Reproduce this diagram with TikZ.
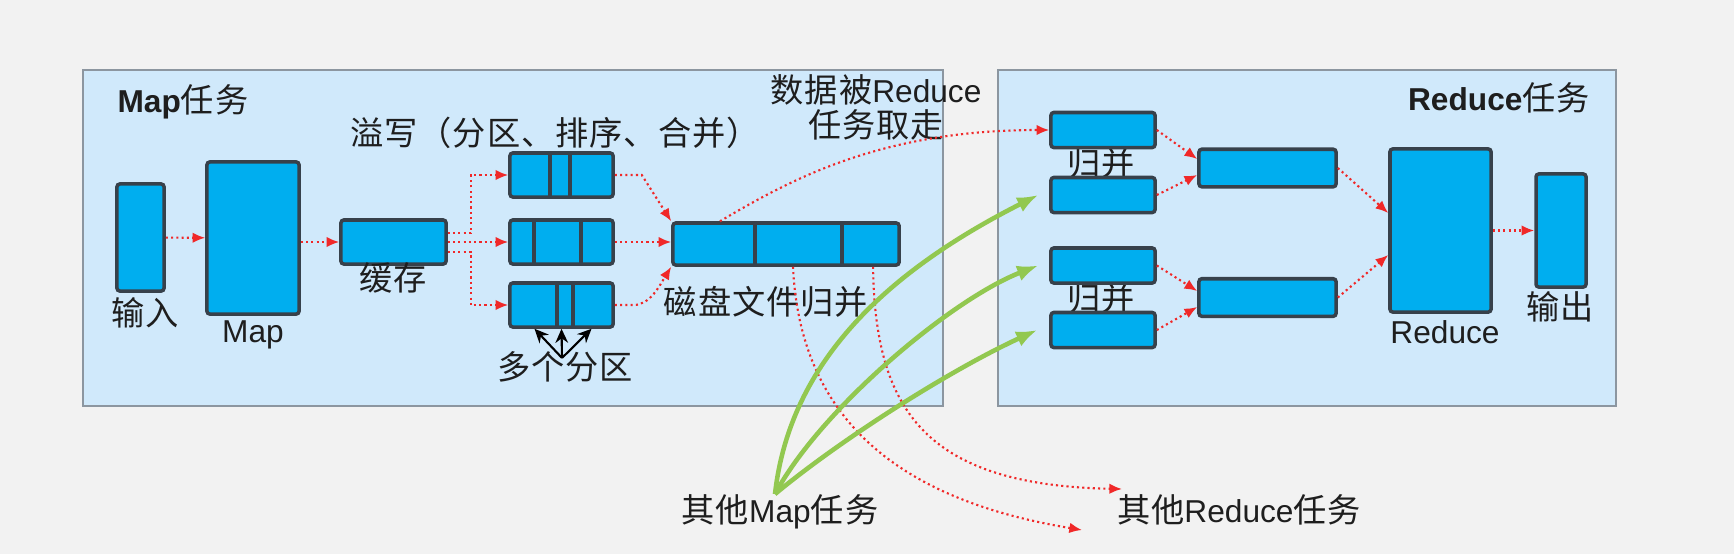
\documentclass[tikz,border=0pt]{standalone}
\usepackage{fontspec}
\setmainfont{Liberation Sans}
\newfontfamily\cjk{Noto Sans CJK SC}[Scale=1.05,LetterSpace=3]
\usetikzlibrary{arrows.meta}
\definecolor{bggray}{RGB}{242,242,242}
\definecolor{panelblue}{RGB}{208,233,251}
\definecolor{panelline}{RGB}{140,150,160}
\definecolor{boxblue}{RGB}{0,174,239}
\definecolor{boxline}{RGB}{55,65,75}
\definecolor{flowred}{RGB}{240,40,40}
\definecolor{feedgreen}{RGB}{146,200,80}
\definecolor{inkgray}{RGB}{30,30,30}

\begin{document}
\begin{tikzpicture}[x=0.01cm,y=-0.01cm,
    panel/.style={draw=panelline,fill=panelblue,line width=0.5pt,inner sep=0pt},
    box/.style={draw=boxline,fill=boxblue,line width=1pt,rounded corners=0.8pt,inner sep=0pt},
    divider/.style={boxline,line width=1pt},
    flow/.style={flowred,line width=0.6pt,dash pattern=on 0.6pt off 0.9pt,-{Latex[length=3.6pt,width=3pt]}},
    feed/.style={feedgreen,line width=1.3pt,-{Latex[length=6pt,width=4.6pt]}},
    pick/.style={black,line width=0.6pt,-{Stealth[length=4pt,width=3.6pt]}},
    txt/.style={inkgray,font=\fontsize{9}{10}\selectfont,inner sep=0pt},
    heading/.style={txt,font=\fontsize{9}{10}\selectfont\bfseries}]
    \useasboundingbox (0,0) rectangle (1734,554);
    \fill[bggray] (0,0) rectangle (1734,554);
    \node[panel,minimum width=8.6cm,minimum height=3.36cm] (mappanel) at (513,238) {};
    \node[panel,minimum width=6.18cm,minimum height=3.36cm] (redpanel) at (1307,238) {};
    \node[heading] (maptitle) at (183,102) {Map{\cjk\mdseries 任务}};
    \node[heading] (redtitle) at (1499,98) {Reduce{\cjk\mdseries 任务}};

    \node[txt] (merge1lbl) at (1101,163) {\cjk 归并};
    \node[txt] (merge2lbl) at (1101,298) {\cjk 归并};

    \node[box,minimum width=0.47cm,minimum height=1.07cm] (input) at (140.5,237.5) {};
    \node[box,minimum width=0.92cm,minimum height=1.52cm] (map) at (253,238) {};
    \node[box,minimum width=1.05cm,minimum height=0.44cm] (cache) at (393.5,242) {};
    \foreach \n/\y in {p1/175,p2/242,p3/305}
        \node[box,minimum width=1.03cm,minimum height=0.44cm] (\n) at (561.5,\y) {};
    \foreach \n/\a/\b in {p1/-0.115cm/0.085cm,p2/-0.275cm/0.195cm,p3/-0.045cm/0.115cm}{
        \draw[divider] ([xshift=\a]\n.north) -- ([xshift=\a]\n.south);
        \draw[divider] ([xshift=\b]\n.north) -- ([xshift=\b]\n.south);
    }
    \node[box,minimum width=2.26cm,minimum height=0.42cm] (disk) at (786,244) {};
    \foreach \a in {-0.31cm,0.56cm}
        \draw[divider] ([xshift=\a]disk.north) -- ([xshift=\a]disk.south);
    \foreach \n/\y in {r1/130,r2/195,r3/265.5,r4/330}
        \node[box,minimum width=1.04cm,minimum height=0.35cm] (\n) at (1103,\y) {};
    \foreach \n/\y in {m1/168,m2/297.5}
        \node[box,minimum width=1.37cm,minimum height=0.375cm] (\n) at (1267.5,\y) {};
    \node[box,minimum width=1.01cm,minimum height=1.63cm] (reduce) at (1440.5,230.5) {};
    \node[box,minimum width=0.5cm,minimum height=1.13cm] (output) at (1561,230.5) {};

    \node[txt] (inputlbl) at (145,313) {\cjk 输入};
    \node[txt] (maplbl) at (253,335) {Map};
    \node[txt] (cachelbl) at (393,278) {\cjk 缓存};
    \node[txt] (spilllbl) at (555,133) {\cjk 溢写（分区、排序、合并）};
    \node[txt] (partlbl) at (565,367) {\cjk 多个分区};
    \node[txt] (disklbl) at (766,302) {\cjk 磁盘文件归并};
    \node[txt,align=center] (fetchlbl) at (876,107) {{\cjk 数据被}Reduce\\{\cjk 任务取走}};
    \node[txt] (reducelbl) at (1445,332) {Reduce};
    \node[txt] (outputlbl) at (1560,307) {\cjk 输出};
    \node[txt] (othermap) at (780,512) {{\cjk 其他}Map{\cjk 任务}};
    \node[txt] (otherred) at (1239,510) {{\cjk 其他}Reduce{\cjk 任务}};

    \draw[flow] (input) -- (map);
    \draw[flow] (map.east |- cache) -- (cache.west);
    \draw[flow] ([yshift=0.09cm]cache.east) -- ++(23,0) |- (p1.west);
    \draw[flow] (cache.east) -- (p2.west);
    \draw[flow] ([yshift=-0.1cm]cache.east) -- ++(23,0) |- (p3.west);
    \draw[flow] (p1.east) -- ++(27,0) -- (disk.north west);
    \draw[flow] (p2.east) -- (p2.east -| disk.west);
    \draw[flow] (p3.east) -- ++(19,0) .. controls (650,305) and (660,285) .. (disk.south west);
    \coordinate (fan) at ([xshift=-0.03cm,yshift=-0.07cm]partlbl.north);
    \foreach \dx in {-0.27cm,0cm,0.3cm}
        \draw[pick] (fan) -- ([xshift=\dx]p3.south);

    \coordinate (endA) at (1082,530);
    \coordinate (endB) at (1122,489);
    \draw[flow] ([xshift=-0.66cm]disk.north) .. controls (790,180) and (880,130) .. (r1.west);
    \draw[flow] ([xshift=0.07cm]disk.south) .. controls (800,420) and (900,500) .. (endA);
    \draw[flow] ([xshift=0.87cm]disk.south) .. controls (875,410) and (925,485) .. (endB);

    \coordinate (src) at ([xshift=-0.05cm]othermap.north);
    \draw[feed] (src) .. controls (790,360) and (890,270) .. ([xshift=-0.11cm]r2.west);
    \draw[feed] (src) .. controls (820,410) and (950,300) .. ([xshift=-0.11cm]r3.west);
    \draw[feed] (src) .. controls (840,440) and (950,370) .. ([xshift=-0.12cm]r4.west);

    \draw[flow] (r1.east) -- ([yshift=0.09cm]m1.west);
    \draw[flow] (r2.east) -- ([yshift=-0.07cm]m1.west);
    \draw[flow] (r3.east) -- ([yshift=0.065cm]m2.west);
    \draw[flow] (r4.east) -- ([yshift=-0.095cm]m2.west);
    \draw[flow] (m1.east) -- ([yshift=0.175cm]reduce.west);
    \draw[flow] (m2.east) -- ([yshift=-0.245cm]reduce.west);
    \draw[flow] (reduce) -- (output);
\end{tikzpicture}
\end{document}
